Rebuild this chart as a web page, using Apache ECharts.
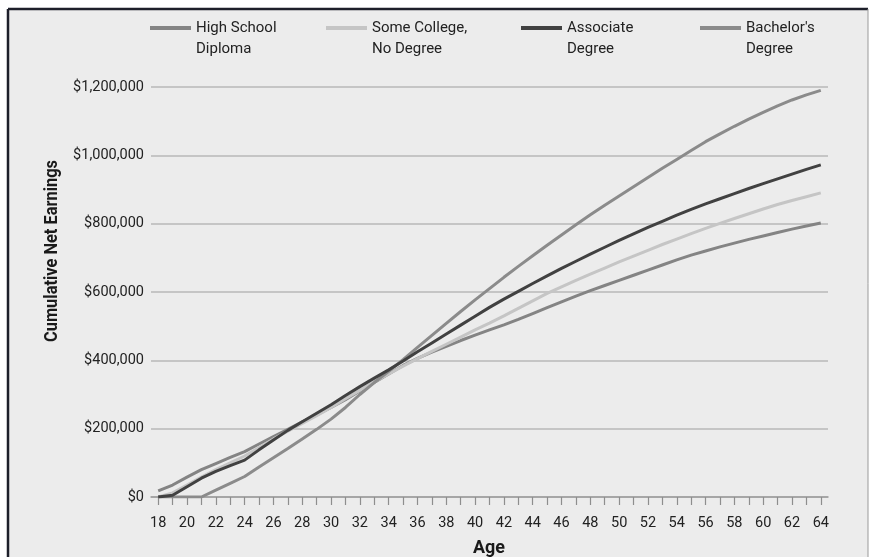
<!DOCTYPE html>
<html>
<head>
<meta charset="utf-8">
<title>Cumulative Net Earnings by Age</title>
<script src="https://cdn.jsdelivr.net/npm/echarts@6/dist/echarts.min.js"></script>
<style>
  html, body { margin: 0; padding: 0; background: #ffffff; }
  #chart { width: 870px; height: 557px; }
</style>
</head>
<body>
<div id="chart"></div>
<script>
// Ages on the horizontal axis (one point per year)
const ages = [18, 19, 20, 21, 22, 23, 24, 25, 26, 27, 28, 29, 30, 31, 32, 33, 34, 35, 36, 37, 38, 39, 40,
  41, 42, 43, 44, 45, 46, 47, 48, 49, 50, 51, 52, 53, 54, 55, 56, 57, 58, 59, 60, 61, 62, 63, 64];
// Labelled ages (every second year)
const ageTickLabels = [18, 20, 22, 24, 26, 28, 30, 32, 34, 36, 38, 40, 42, 44, 46, 48, 50, 52, 54, 56, 58, 60, 62, 64];
// Dollar ticks on the vertical axis
const earningTicks = [0, 200000, 400000, 600000, 800000, 1000000, 1200000];

const seriesNames = ['High School\nDiploma', 'Some College,\nNo Degree', 'Associate\nDegree', "Bachelor's\nDegree"];

// Cumulative net earnings (USD) by education level, ages 18-64
const highSchool = [18000, 35000, 58000, 80000, 98000, 116000, 133000, 155000, 177000, 198000, 220000, 240000,
  262000, 285000, 310000, 335000, 360000, 385000, 406000, 424000, 441000, 458000, 474000, 489000, 504000,
  520000, 537000, 554000, 571000, 588000, 604000, 619000, 634000, 649000, 664000, 679000, 694000, 708000,
  720000, 732000, 743000, 754000, 764000, 774000, 784000, 793000, 802000];
const someCollege = [0, 12000, 35000, 58000, 80000, 100000, 120000, 145000, 170000, 193000, 215000, 238000,
  262000, 288000, 312000, 337000, 360000, 383000, 405000, 426000, 447000, 468000, 489000, 509000, 530000,
  552000, 574000, 596000, 615000, 634000, 652000, 670000, 688000, 705000, 722000, 739000, 755000, 771000,
  786000, 801000, 815000, 829000, 843000, 856000, 868000, 879000, 890000];
const associate = [0, 5000, 30000, 55000, 75000, 92000, 108000, 138000, 167000, 195000, 220000, 245000,
  270000, 297000, 323000, 348000, 372000, 398000, 425000, 451000, 477000, 503000, 529000, 555000, 579000,
  602000, 625000, 647000, 669000, 690000, 711000, 731000, 751000, 770000, 789000, 807000, 825000, 842000,
  858000, 873000, 888000, 903000, 917000, 931000, 945000, 959000, 972000];
const bachelors = [0, 0, 0, 0, 20000, 40000, 60000, 88000, 115000, 142000, 170000, 198000,
  228000, 262000, 300000, 335000, 368000, 402000, 438000, 473000, 508000, 543000, 577000, 610000, 643000,
  675000, 706000, 737000, 767000, 797000, 826000, 854000, 881000, 908000, 935000, 962000, 988000, 1014000,
  1040000, 1063000, 1085000, 1106000, 1126000, 1145000, 1162000, 1177000, 1190000];

const seriesValues = [highSchool, someCollege, associate, bachelors];
const seriesColors = ['#848484', '#c5c5c5', '#414141', '#8b8b8b'];
// drawing order: the dark line sits on top where the curves cross
const drawOrder = [0, 1, 3, 2];
const legendLefts = [150, 326, 521, 700];

const baseFont = 'Roboto, "Liberation Sans", sans-serif';
const titleFontSpec = 'bold 18px Roboto, "Liberation Sans", sans-serif';
const ageFontSpec = 'bold 19px Roboto, "Liberation Sans", sans-serif';

// Axis titles are set in a condensed bold face: squeeze the glyphs horizontally
function measure(text, font) {
  const ctx = document.createElement('canvas').getContext('2d');
  ctx.font = font;
  return ctx.measureText(text).width;
}
const yTitle = 'Cumulative Net Earnings';
const xTitle = 'Age';
const yTitleSqueeze = 182 / measure(yTitle, titleFontSpec);
const xTitleSqueeze = 32 / measure(xTitle, ageFontSpec);

const chart = echarts.init(document.getElementById('chart'), null, { renderer: 'canvas' });

const option = {
  backgroundColor: '#ffffff',
  animation: false,
  graphic: [
    { type: 'rect', z: -10, silent: true,
      shape: { x: 8, y: 9, width: 860, height: 560 },
      style: { fill: '#ececec', stroke: null } },
    { type: 'line', z: -9, silent: true,
      shape: { x1: 8, y1: 9, x2: 8, y2: 560 },
      style: { stroke: '#1d1f2a', lineWidth: 2.5 } },
    { type: 'line', z: -9, silent: true,
      shape: { x1: 8, y1: 9, x2: 868, y2: 9 },
      style: { stroke: '#1d1f2a', lineWidth: 2.5 } },
    { type: 'line', z: -9, silent: true,
      shape: { x1: 868, y1: 9, x2: 868, y2: 560 },
      style: { stroke: '#9a9a9a', lineWidth: 1 } },
    { type: 'text', z: 10, silent: true,
      x: 52, y: 251, rotation: Math.PI / 2, scaleX: yTitleSqueeze,
      style: { text: yTitle, fill: '#1a1a1a',
        font: titleFontSpec, align: 'center', verticalAlign: 'middle' } },
    { type: 'text', z: 10, silent: true,
      x: 489, y: 548, scaleX: xTitleSqueeze,
      style: { text: xTitle, fill: '#1a1a1a',
        font: ageFontSpec, align: 'center', verticalAlign: 'middle' } }
  ],
  // one legend block per series so each entry can sit at its own column;
  // the leading blank line keeps the icon level with the first text line
  legend: seriesNames.map((name, i) => ({
    data: [name],
    left: legendLefts[i],
    top: -3.5,
    padding: 0,
    icon: 'rect',
    itemWidth: 41,
    itemHeight: 4,
    selectedMode: false,
    formatter: n => '\n' + n,
    textStyle: {
      color: '#222222',
      fontFamily: baseFont,
      fontSize: 15,
      lineHeight: 21
    }
  })),
  grid: { left: 151, right: 42, top: 87, bottom: 60, containLabel: false },
  xAxis: {
    type: 'value',
    min: 17.5,
    max: 64.5,
    axisLine: { show: true, onZero: true, lineStyle: { color: '#9c9c9c', width: 1.5 } },
    axisTick: { show: true, customValues: ages, length: 8, lineStyle: { color: '#8e8e8e', width: 1.2 } },
    axisLabel: { customValues: ageTickLabels, margin: 19, color: '#222222', fontFamily: baseFont, fontSize: 14.5 },
    splitLine: { show: false }
  },
  yAxis: {
    type: 'value',
    min: earningTicks[0],
    max: earningTicks[earningTicks.length - 1],
    interval: earningTicks[1] - earningTicks[0],
    axisLine: { show: false },
    axisTick: { show: false },
    axisLabel: {
      margin: 7,
      color: '#222222',
      fontFamily: baseFont,
      fontSize: 14.5,
      formatter: v => '$' + v.toLocaleString('en-US')
    },
    splitLine: { show: true, lineStyle: { color: '#b9b9b9', width: 1.5 } }
  },
  series: drawOrder.map(i => ({
    name: seriesNames[i],
    type: 'line',
    data: ages.map((a, k) => [a, seriesValues[i][k]]),
    symbol: 'none',
    color: seriesColors[i],
    lineStyle: { color: seriesColors[i], width: 3 },
    z: 2 + drawOrder.indexOf(i)
  }))
};

chart.setOption(option);
</script>
</body>
</html>
